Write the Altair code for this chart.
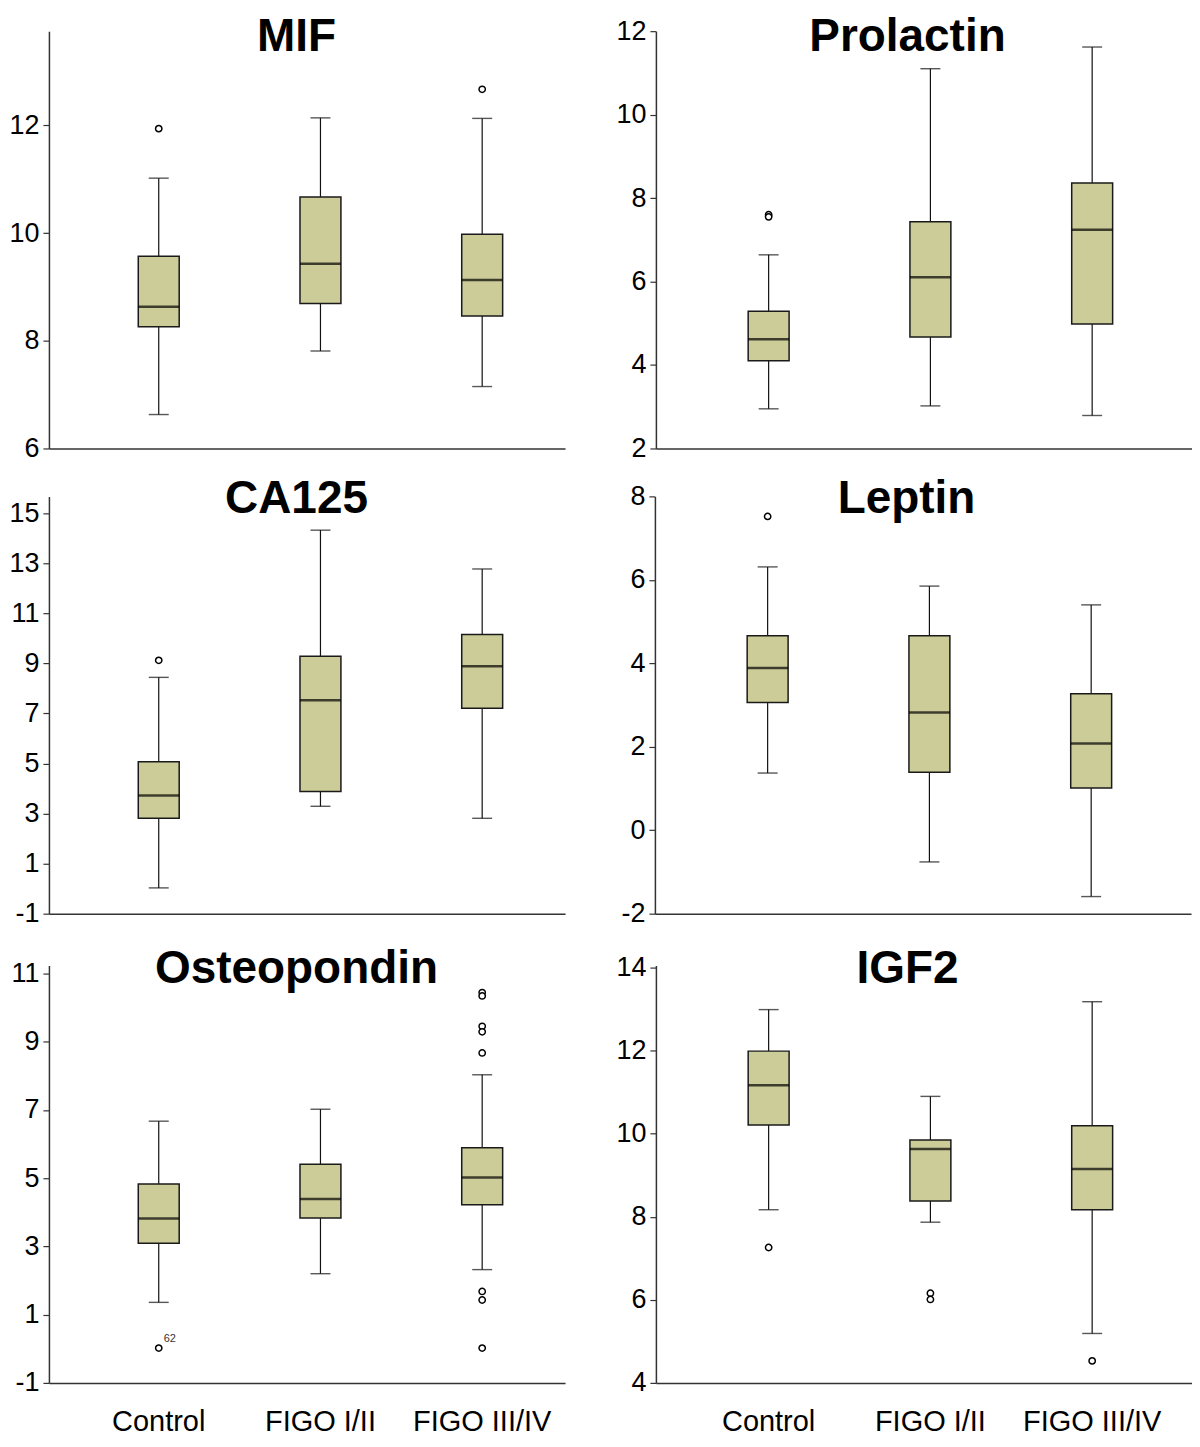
import altair as alt
import pandas as pd

groups = ["Control", "FIGO I/II", "FIGO III/IV"]
titles = ["MIF", "Prolactin", "CA125", "Leptin", "Osteopondin", "IGF2"]

# lower whisker, Q1, median, Q3, upper whisker  (Control, FIGO I/II, FIGO III/IV)
mif_low = [6.63, 7.81, 7.15]
mif_q1 = [8.26, 8.69, 8.46]
mif_med = [8.63, 9.43, 9.13]
mif_q3 = [9.57, 10.67, 9.98]
mif_high = [11.02, 12.14, 12.13]
mif_out_grp = ["Control", "FIGO III/IV"]
mif_out_val = [11.94, 12.67]

prl_low = [2.95, 3.02, 2.79]
prl_q1 = [4.10, 4.67, 4.98]
prl_med = [4.62, 6.10, 7.24]
prl_q3 = [5.29, 7.43, 8.36]
prl_high = [6.64, 11.10, 11.62]
prl_out_grp = ["Control", "Control"]
prl_out_val = [7.60, 7.55]

ca_low = [0.03, 3.29, 2.81]
ca_q1 = [2.81, 3.88, 7.21]
ca_med = [3.72, 7.53, 8.88]
ca_q3 = [5.07, 9.28, 10.15]
ca_high = [8.44, 14.32, 12.77]
ca_out_grp = ["Control"]
ca_out_val = [9.12]

lep_low = [1.37, -0.76, -1.59]
lep_q1 = [3.06, 1.39, 1.01]
lep_med = [3.89, 2.82, 2.08]
lep_q3 = [4.66, 4.66, 3.27]
lep_high = [6.31, 5.85, 5.40]
lep_out_grp = ["Control"]
lep_out_val = [7.52]

opn_low = [1.36, 2.20, 2.32]
opn_q1 = [3.09, 3.83, 4.22]
opn_med = [3.82, 4.39, 5.02]
opn_q3 = [4.83, 5.41, 5.89]
opn_high = [6.67, 7.02, 8.03]
opn_out_grp = ["Control"] + ["FIGO III/IV"] * 8
opn_out_val = [0.02, 10.44, 10.34, 9.45, 9.29, 8.67, 1.68, 1.43, 0.02]
opn_out_lbl = ["62", "", "", "", "", "", "", "", ""]

igf_low = [8.17, 7.87, 5.19]
igf_q1 = [10.21, 8.38, 8.17]
igf_med = [11.17, 9.63, 9.15]
igf_q3 = [11.99, 9.85, 10.19]
igf_high = [12.99, 10.90, 13.18]
igf_out_grp = ["Control", "FIGO I/II", "FIGO I/II", "FIGO III/IV"]
igf_out_val = [7.26, 6.16, 6.01, 4.53]

y_domains = [[6, 13.75], [2, 12], [-1, 15.67], [-2, 8], [-1, 11.23], [4, 14.05]]
y_ticks = [[6, 8, 10, 12], [2, 4, 6, 8, 10, 12], [-1, 1, 3, 5, 7, 9, 11, 13, 15],
           [-2, 0, 2, 4, 6, 8], [-1, 1, 3, 5, 7, 9, 11], [4, 6, 8, 10, 12, 14]]

FONT = "Liberation Sans"
FILL = "#CCCC99"
H = 418
WIDTHS = [517, 537]
PAD_OUTER = [0.0957, 0.157]
ALIGN = [0.935, 0.627]
TITLE_X = [248, 252]
TITLE_Y = [20, 17, 17]


def panel(i, low, q1, med, q3, high, out_grp, out_val, out_lbl=None):
    col = i % 2
    row = i // 2
    bottom = row == 2
    stats = pd.DataFrame({"group": groups, "low": low, "q1": q1, "med": med,
                          "q3": q3, "high": high})
    outs = pd.DataFrame({"group": out_grp, "value": out_val,
                         "lbl": out_lbl if out_lbl else [""] * len(out_val)})
    tdf = pd.DataFrame({"t": [titles[i]]})

    xaxis = alt.Axis(title=None, labels=bottom, ticks=False, tickSize=0,
                     labelFontSize=29, labelPadding=48, labelAngle=0,
                     labelBaseline="alphabetic",
                     labelColor="black", domainColor="#333333", domainWidth=1.5)
    x = alt.X("group:N", axis=xaxis,
              scale=alt.Scale(domain=groups, paddingInner=0,
                              paddingOuter=PAD_OUTER[col], align=ALIGN[col]))
    yscale = alt.Scale(domain=y_domains[i], nice=False, zero=False)
    yaxis = alt.Axis(title=None, values=y_ticks[i], grid=False, tickSize=6,
                     labelPadding=4, labelFontSize=27, labelColor="black",
                     labelExpr="'' + datum.value",
                     domainColor="#333333", domainWidth=1.5, tickColor="#333333",
                     tickWidth=1.2, minExtent=40, maxExtent=40, labelFlush=False)

    base = alt.Chart(stats)
    w_lo = base.mark_rule(color="#111111", strokeWidth=1.2).encode(
        x=x, y=alt.Y("low:Q", scale=yscale, axis=yaxis), y2="q1:Q")
    w_hi = base.mark_rule(color="#111111", strokeWidth=1.2).encode(
        x=x, y=alt.Y("q3:Q", scale=yscale, axis=yaxis), y2="high:Q")
    box = base.mark_bar(size=41, fill=FILL, stroke="#1a1a1a", strokeWidth=1.5).encode(
        x=x, y=alt.Y("q1:Q", scale=yscale, axis=yaxis), y2="q3:Q")
    median = base.mark_tick(size=41, thickness=2.5, color="#000000").encode(
        x=x, y=alt.Y("med:Q", scale=yscale, axis=yaxis))
    cap_lo = base.mark_tick(size=20, thickness=1.4, color="#111111").encode(
        x=x, y=alt.Y("low:Q", scale=yscale, axis=yaxis))
    cap_hi = base.mark_tick(size=20, thickness=1.4, color="#111111").encode(
        x=x, y=alt.Y("high:Q", scale=yscale, axis=yaxis))
    pts = alt.Chart(outs).mark_point(shape="circle", filled=False, size=40,
                                     stroke="#000000", strokeWidth=1.5,
                                     fill="white", opacity=1).encode(
        x=x, y=alt.Y("value:Q", scale=yscale, axis=yaxis))
    lbl = alt.Chart(outs).mark_text(font=FONT, fontSize=11, color="#333333",
                                    align="left", baseline="alphabetic",
                                    dx=5, dy=-6).encode(
        x=x, y=alt.Y("value:Q", scale=yscale, axis=yaxis), text="lbl:N")
    ttl = alt.Chart(tdf).mark_text(font=FONT, fontSize=46, fontWeight="bold",
                                   color="black", align="center",
                                   baseline="alphabetic").encode(
        x=alt.value(TITLE_X[col]), y=alt.value(TITLE_Y[row]), text="t:N")

    return alt.layer(w_lo, w_hi, box, median, cap_lo, cap_hi, pts, lbl, ttl).properties(
        width=WIDTHS[col], height=H)


p = [
    panel(0, mif_low, mif_q1, mif_med, mif_q3, mif_high, mif_out_grp, mif_out_val),
    panel(1, prl_low, prl_q1, prl_med, prl_q3, prl_high, prl_out_grp, prl_out_val),
    panel(2, ca_low, ca_q1, ca_med, ca_q3, ca_high, ca_out_grp, ca_out_val),
    panel(3, lep_low, lep_q1, lep_med, lep_q3, lep_high, lep_out_grp, lep_out_val),
    panel(4, opn_low, opn_q1, opn_med, opn_q3, opn_high, opn_out_grp, opn_out_val, opn_out_lbl),
    panel(5, igf_low, igf_q1, igf_med, igf_q3, igf_high, igf_out_grp, igf_out_val),
]

top_rows = alt.vconcat(
    alt.hconcat(p[0], p[1], spacing=50),
    alt.hconcat(p[2], p[3], spacing=50),
    spacing=15,
)
chart = alt.vconcat(
    top_rows,
    alt.hconcat(p[4], p[5], spacing=50),
    spacing=19,
).properties(
    padding={"left": 0, "top": 5, "right": 0, "bottom": 0},
    background="white",
).configure(
    font=FONT,
    view=alt.ViewConfig(stroke="transparent", strokeWidth=0),
)

chart.save("out.html", embed_options={"renderer": "svg", "actions": False})
